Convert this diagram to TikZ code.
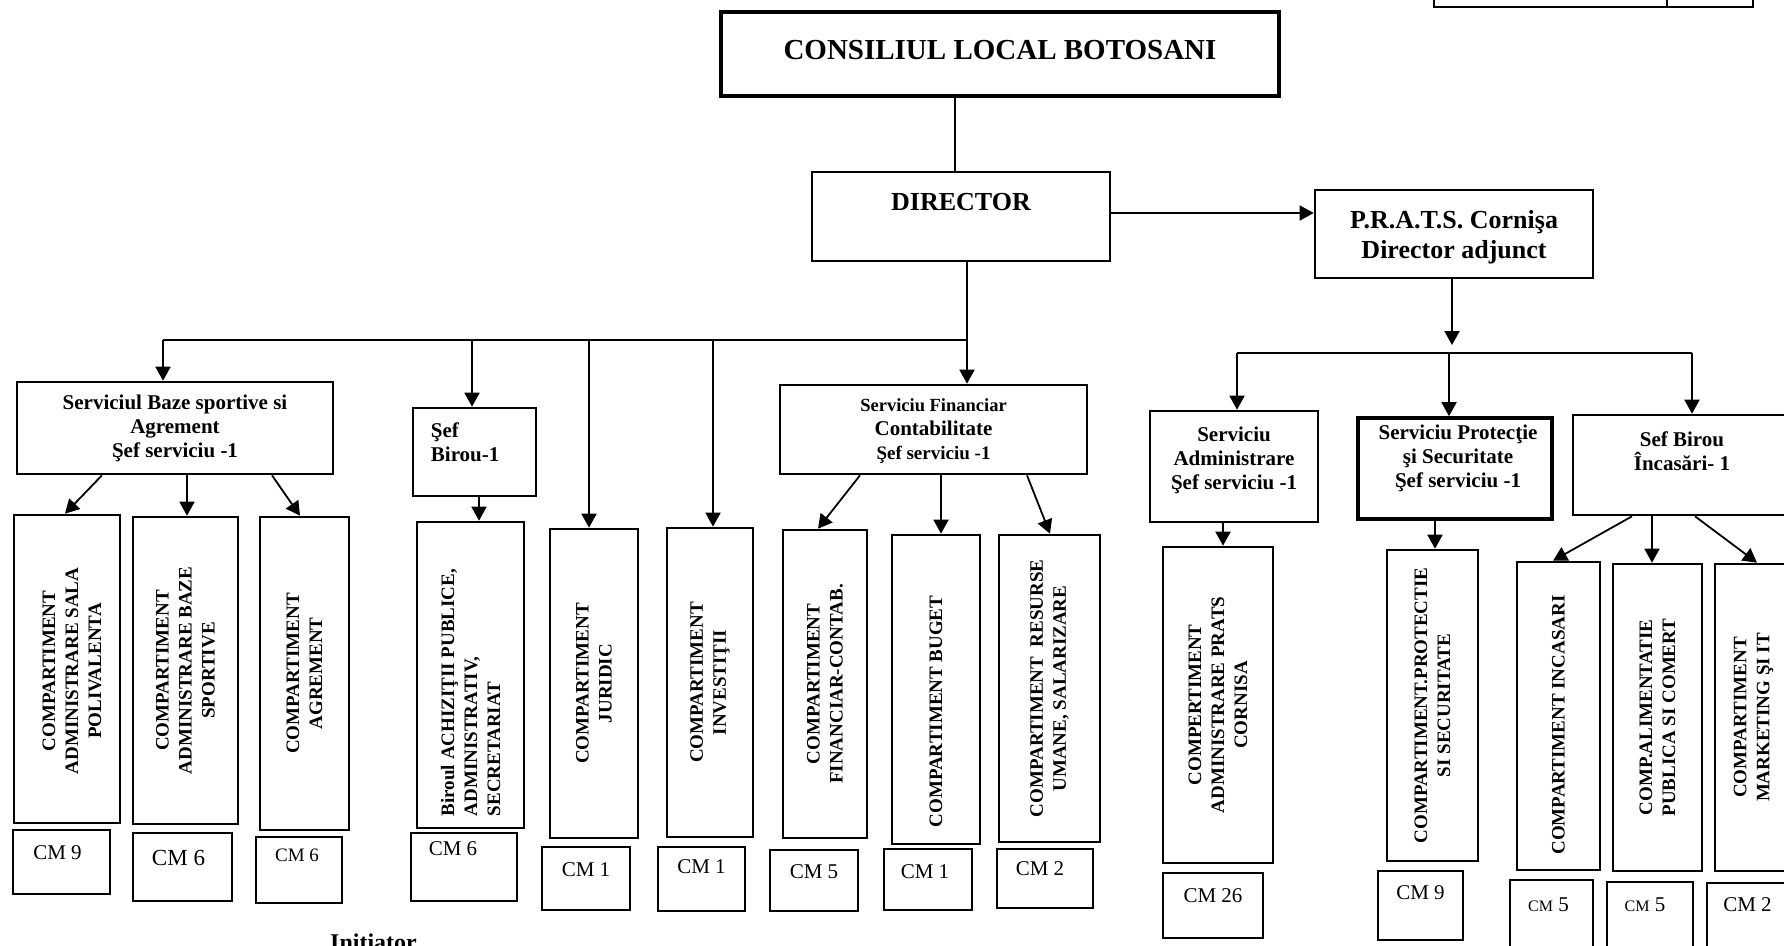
\documentclass[tikz,border=0pt]{standalone}
\usepackage{fontspec}
\setmainfont{Liberation Serif}
\usetikzlibrary{arrows.meta,fit,calc}
\newcommand\titlefnt{\fontsize{29}{33}\selectfont\bfseries}
\newcommand\dirfnt{\fontsize{26}{30}\selectfont\bfseries}
\newcommand\boxfnt{\fontsize{21}{24}\selectfont\bfseries}
\newcommand\smallboxfnt{\fontsize{18.5}{21}\selectfont\bfseries}
\newcommand\rotfnt{\fontsize{19}{23}\selectfont\bfseries}
\newcommand\cmfnt{\fontsize{21}{24}\selectfont}
\begin{document}
\begin{tikzpicture}[x=1pt,y=-1pt,
  bx/.style={draw, line width=2.6pt, inner sep=0pt},
  thickbx/.style={bx, line width=3.6pt},
  conn/.style={line width=1.8pt},
  arr/.style={conn, -{Triangle[length=14pt,width=15pt]}},
  lbl/.style={align=center, font=\boxfnt, inner sep=0pt},
  rot/.style={rotate=90, align=center, font=\rotfnt, inner sep=0pt},
  cml/.style={font=\cmfnt, inner sep=0pt}]
\useasboundingbox (0,0) rectangle (1784,945);
\fill[white] (0,0) rectangle (1784,945);
\clip (0,0) rectangle (1784,945);

% top-right partial box
\node[bx, fit={(1434,-30) (1753,7)}] (tr) {};
\draw[conn] (tr.north -| 1667,0) -- (tr.south -| 1667,0);

% top levels
\node[thickbx, fit={(721,12) (1279,96)}] (cons) {};
\node[lbl, font=\titlefnt] (cons-t) at ($(cons.center)+(0,-4)$) {CONSILIUL LOCAL BOTOSANI};
\node[bx, fit={(812,172) (1110,261)}] (dir) {};
\node[lbl, font=\dirfnt] (dir-t) at ($(dir.center)+(0,-14)$) {DIRECTOR};
\node[bx, fit={(1315,190) (1593,278)}] (prats) {};
\node[lbl, font=\fontsize{26}{30}\selectfont\bfseries] (prats-t) at ($(prats.center)+(0,3)$) {P.R.A.T.S. Cornişa\\Director adjunct};

% second level
\node[bx, fit={(17,382) (333,474)}] (sbs) {};
\node[lbl] (sbs-t) at (sbs.center) {Serviciul Baze sportive si\\Agrement\\Şef serviciu -1};
\node[bx, fit={(413,408) (536,496)}] (sb1) {};
\node[lbl, align=left, anchor=west] (sb1-t) at ($(sb1.west)+(19,-10)$) {Şef\\Birou-1};
\node[bx, fit={(780,385) (1087,474)}] (sfc) {};
\node[lbl] (sfc-t) at ($(sfc.center)+(0,2)$) {{\smallboxfnt Serviciu Financiar}\\Contabilitate\\{\fontsize{19}{22}\selectfont Şef serviciu -1}};
\node[bx, fit={(1150,411) (1318,522)}] (sadm) {};
\node[lbl] (sadm-t) at ($(sadm.center)+(0,-6)$) {Serviciu\\Administrare\\Şef serviciu -1};
\node[thickbx, fit={(1358,418) (1552,519)}] (sprot) {};
\node[lbl] (sprot-t) at ($(sprot.center)+(3,-10)$) {Serviciu Protecţie\\şi Securitate\\Şef serviciu -1};
\node[bx, fit={(1573,415) (1795,515)}] (sinc) {};
\node[lbl] (sinc-t) at ($(sinc.center)+(-2,-14)$) {Sef Birou\\Încasări- 1};

% tall compartments
\node[bx, fit={(14,515) (120,823)}] (t1) {};
\node[rot] (t1-t) at ($(t1.center)+(5,2)$) {COMPARTIMENT\\ADMINISTRARE SALA\\POLIVALENTA};
\node[bx, fit={(133,517) (238,824)}] (t2) {};
\node[rot] (t2-t) at (t2.center) {COMPARTIMENT\\ADMINISTRARE BAZE\\SPORTIVE};
\node[bx, fit={(260,517) (349,830)}] (t3) {};
\node[rot] (t3-t) at (t3.center) {COMPARTIMENT\\AGREMENT};
\node[bx, fit={(417,522) (524,828)}] (t4) {};
\node[rot, align=left, anchor=west] (t4-t) at ($(t4.south)+(0,-13)$) {Biroul ACHIZIŢII PUBLICE,\\ADMINISTRATIV,\\SECRETARIAT};
\node[bx, fit={(550,529) (638,838)}] (t5) {};
\node[rot] (t5-t) at (t5.center) {COMPARTIMENT\\JURIDIC};
\node[bx, fit={(667,528) (753,837)}] (t6) {};
\node[rot] (t6-t) at (t6.center) {COMPARTIMENT\\INVESTIŢII};
\node[bx, fit={(783,530) (867,838)}] (t7) {};
\node[rot] (t7-t) at (t7.center) {COMPARTIMENT\\FINANCIAR-CONTAB.};
\node[bx, fit={(892,535) (980,844)}] (t8) {};
\node[rot] (t8-t) at ($(t8.center)+(0,22)$) {COMPARTIMENT BUGET};
\node[bx, fit={(999,535) (1100,842)}] (t9) {};
\node[rot] (t9-t) at (t9.center) {COMPARTIMENT\enspace RESURSE\\UMANE, SALARIZARE};
\node[bx, fit={(1163,547) (1273,863)}] (t10) {};
\node[rot] (t10-t) at (t10.center) {COMPERTIMENT\\ADMINISTRARE PRATS\\CORNISA};
\node[bx, fit={(1387,550) (1478,861)}] (t11) {};
\node[rot] (t11-t) at (t11.center) {COMPARTIMENT.PROTECTIE\\SI SECURITATE};
\node[bx, fit={(1517,562) (1600,870)}] (t12) {};
\node[rot] (t12-t) at ($(t12.center)+(0,9)$) {COMPARTIMENT INCASARI};
\node[bx, fit={(1613,564) (1702,871)}] (t13) {};
\node[rot] (t13-t) at (t13.center) {COMP.ALIMENTATIE\\PUBLICA SI COMERT};
\node[bx, fit={(1715,564) (1800,871)}] (t14) {};
\node[rot] (t14-t) at ($(t14.center)+(-4,0)$) {COMPARTIMENT\\MARKETING ŞI IT};

% CM boxes
\node[bx, fit={(13,830) (110,894)}] (cm1) {};
\node[cml] (cm1-t) at ($(cm1.north)+(-4,24)$) {CM 9};
\node[bx, fit={(133,833) (232,901)}] (cm2) {};
\node[cml, font=\fontsize{23}{26}\selectfont] (cm2-t) at ($(cm2.north)+(-4,26)$) {CM 6};
\node[bx, fit={(256,837) (342,903)}] (cm3) {};
\node[cml, font=\fontsize{19}{22}\selectfont] (cm3-t) at ($(cm3.north)+(-2,20)$) {CM 6};
\node[bx, fit={(411,833) (517,901)}] (cm4) {};
\node[cml] (cm4-t) at ($(cm4.north)+(-11,17)$) {CM 6};
\node[bx, fit={(542,847) (630,910)}] (cm5) {};
\node[cml] (cm5-t) at ($(cm5.north)+(0,24)$) {CM 1};
\node[bx, fit={(658,847) (745,911)}] (cm6) {};
\node[cml] (cm6-t) at ($(cm6.north)+(0,21)$) {CM 1};
\node[bx, fit={(770,850) (858,911)}] (cm7) {};
\node[cml] (cm7-t) at ($(cm7.north)+(0,23)$) {CM 5};
\node[bx, fit={(884,849) (972,910)}] (cm8) {};
\node[cml] (cm8-t) at ($(cm8.north)+(-3,24)$) {CM 1};
\node[bx, fit={(997,849) (1093,908)}] (cm9) {};
\node[cml] (cm9-t) at ($(cm9.north)+(-5,21)$) {CM 2};
\node[bx, fit={(1163,873) (1263,938)}] (cm10) {};
\node[cml] (cm10-t) at ($(cm10.north)+(0,24)$) {CM 26};
\node[bx, fit={(1378,871) (1463,940)}] (cm11) {};
\node[cml] (cm11-t) at ($(cm11.north)+(0,23)$) {CM 9};
\node[bx, fit={(1510,880) (1593,965)}] (cm12) {};
\node[cml] (cm12-t) at ($(cm12.north)+(-3,26)$) {{\fontsize{16}{18}\selectfont CM} 5};
\node[bx, fit={(1607,882) (1693,965)}] (cm13) {};
\node[cml] (cm13-t) at ($(cm13.north)+(-5,24)$) {{\fontsize{16}{18}\selectfont CM} 5};
\node[bx, fit={(1707,883) (1800,965)}] (cm14) {};
\node[cml] (cm14-t) at ($(cm14.north)+(-6,23)$) {CM 2};

% bottom text, cut by the lower edge as in the reference
\node[font=\fontsize{24}{27}\selectfont\bfseries, anchor=base west, inner sep=0pt] (init) at (330,950) {Initiator};

% connectors: top
\draw[conn] (cons.south -| 955,0) -- (dir.north -| 955,0);
\coordinate (d1) at (1110,213);
\draw[arr] (dir.east |- d1) -- (prats.west |- d1);

% director branches
\coordinate (hL) at (163,340);
\coordinate (hR) at (967,340);
\coordinate (h2) at (472,340);
\coordinate (h3) at (589,340);
\coordinate (h4) at (713,340);
\draw[conn] (hL) -- (hR);
\draw[arr] (dir.south -| hR) -- (sfc.north -| hR);
\draw[arr] (hL) -- (sbs.north -| hL);
\draw[arr] (h2) -- (sb1.north -| h2);
\draw[arr] (h3) -- (t5.north -| h3);
\draw[arr] (h4) -- (t6.north -| h4);

% prats branches
\coordinate (p0) at (1452,345);
\coordinate (pL) at (1237,353);
\coordinate (pM) at (1449,353);
\coordinate (pR) at (1692,353);
\draw[arr] (prats.south -| p0) -- (p0);
\draw[conn] (pL) -- (pR);
\draw[arr] (pL) -- (sadm.north -| pL);
\draw[arr] (pM) -- (sprot.north -| pM);
\draw[arr] (pR) -- (sinc.north -| pR);

% third level arrows
\draw[arr] (sbs.south -| 102,0) -- (t1.north -| 65,0);
\draw[arr] (sbs.south -| 187,0) -- (t2.north -| 187,0);
\draw[arr] (sbs.south -| 272,0) -- (t3.north -| 300,0);
\draw[arr] (sb1.south -| 479,0) -- (t4.north -| 479,0);
\draw[arr] (sfc.south -| 860,0) -- (t7.north -| 818,0);
\draw[arr] (sfc.south -| 941,0) -- (t8.north -| 941,0);
\draw[arr] (sfc.south -| 1027,0) -- (t9.north -| 1050,0);
\draw[arr] (sadm.south -| 1223,0) -- (t10.north -| 1223,0);
\draw[arr] (sprot.south -| 1435,0) -- (t11.north -| 1435,0);
\draw[arr] (sinc.south -| 1632,0) -- (t12.north -| 1553,0);
\draw[arr] (sinc.south -| 1652,0) -- (t13.north -| 1652,0);
\draw[arr] (sinc.south -| 1695,0) -- (t14.north -| 1757,0);
\end{tikzpicture}
\end{document}
